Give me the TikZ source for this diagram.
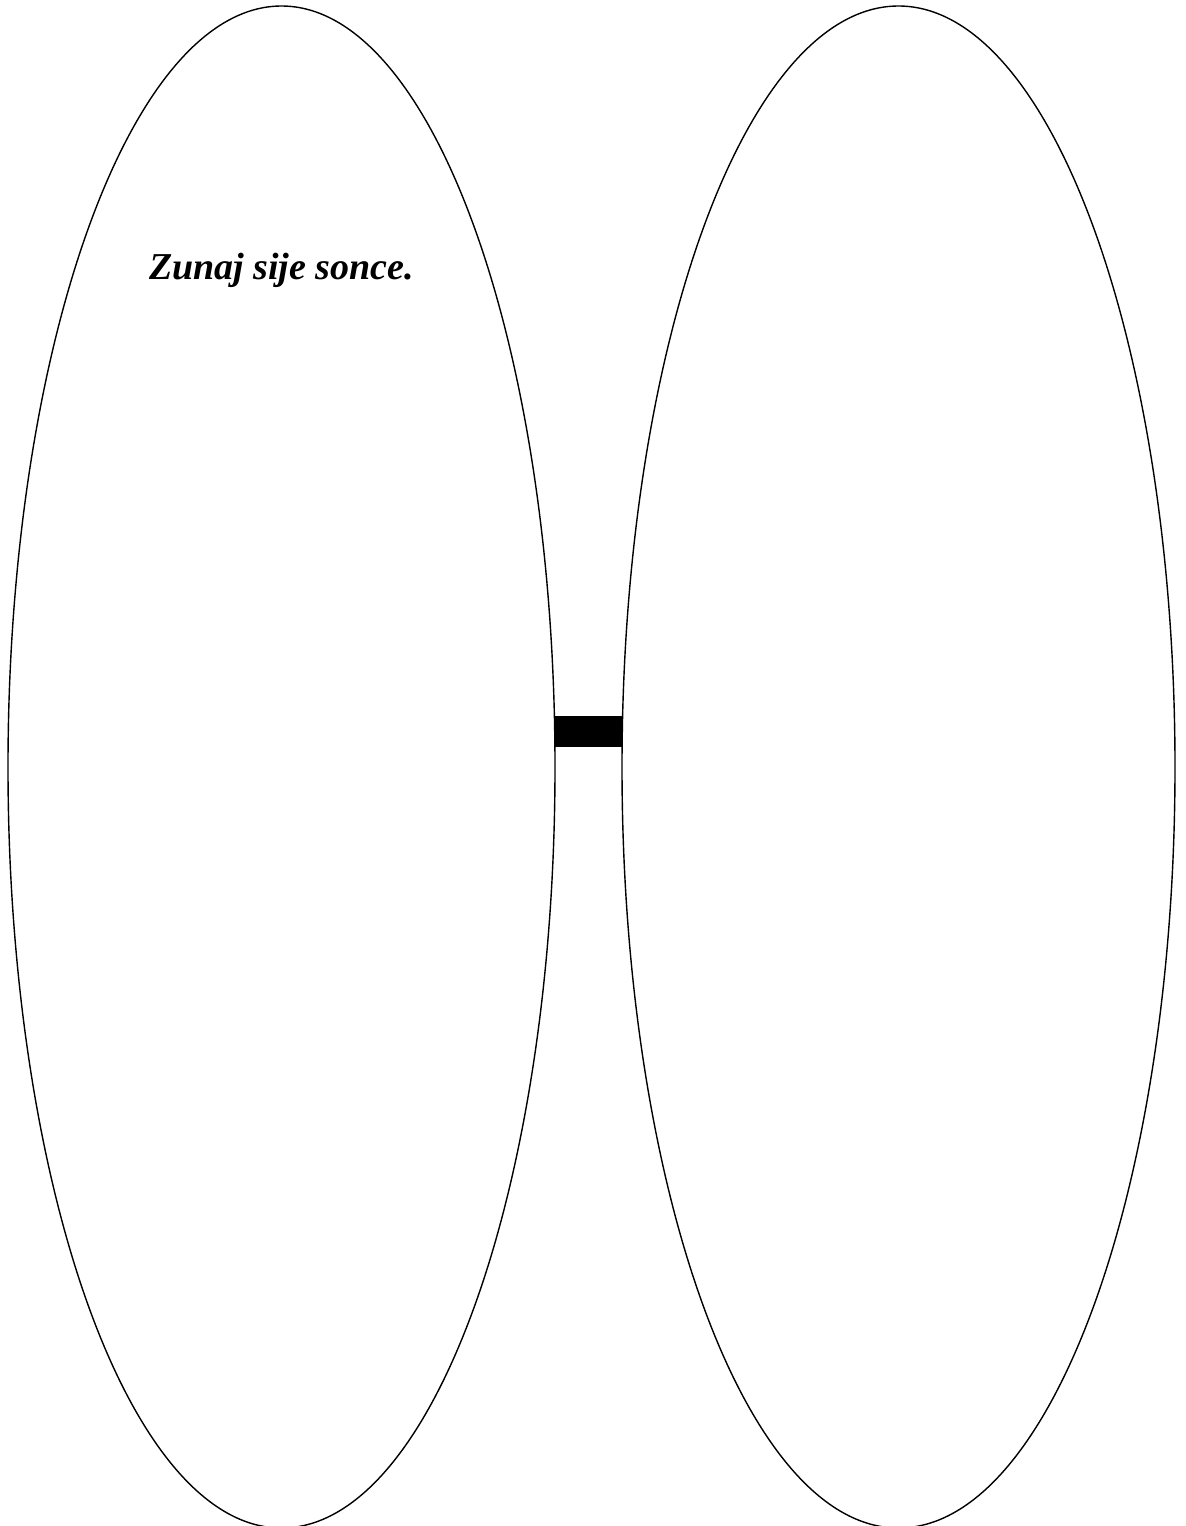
\documentclass[tikz,border=0pt]{standalone}
\usepackage{fontspec}
\setmainfont{Liberation Serif}
\usepackage{tikz}
\usetikzlibrary{shapes.geometric}

\tikzset{
  lobe/.style={draw,ellipse,line width=0.7pt,inner sep=0pt,
    minimum width=273.5pt,minimum height=761pt},
  bridge/.style={line width=15.5pt},
}

\begin{document}
\begin{tikzpicture}[x=0.5pt,y=-0.5pt,every node/.style={font=\fontsize{19}{23}\selectfont\bfseries\itshape}]
\useasboundingbox (0,0) rectangle (1186,1526);
\node[lobe] (leftlobe) at (281.5,767) {};
\node[lobe,minimum width=276.5pt] (rightlobe) at (898.5,767) {};
\node[anchor=base] (sentence) at (281.5,279) {Zunaj sije sonce.};
\coordinate (bridgeL) at (555,731.5);
\coordinate (bridgeR) at (623,731.5);
\draw[bridge] (bridgeL) -- (bridgeR);
\end{tikzpicture}
\end{document}
